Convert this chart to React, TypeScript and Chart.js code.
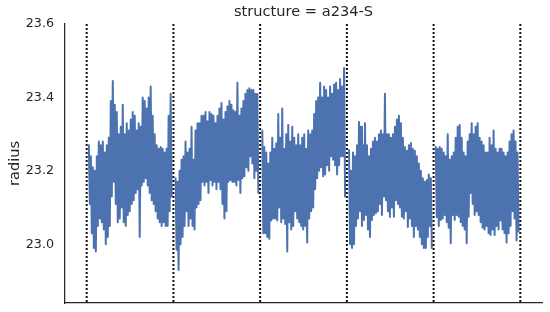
import React, { useEffect, useRef } from "react";
import { Chart, registerables } from "chart.js";

Chart.register(...registerables);

// ---- data ----
const chartTitle = "structure = a234-S";
const yLabel = "radius";
const yTicks = [23.0, 23.2, 23.4, 23.6];
const yMin = 22.84;
const yMax = 23.6;
const segmentBoundaries = [0, 100, 200, 300, 400, 500];
const framesPerSegment = 100;
const sampleOffset = 2.5;
const sampleStep = 2.3;

// upper / lower envelope of the noisy trace, one value per sample
const seg1Upper = [23.27, 23.24, 23.21, 23.2, 23.24, 23.28, 23.27, 23.28, 23.25, 23.27, 23.29, 23.39, 23.445, 23.38, 23.36, 23.3, 23.32, 23.38, 23.3, 23.33, 23.31, 23.34, 23.36, 23.35, 23.31, 23.33, 23.32, 23.4, 23.39, 23.37, 23.4, 23.43, 23.35, 23.3, 23.27, 23.26, 23.265, 23.26, 23.25, 23.26, 23.35, 23.41];
const seg1Lower = [23.11, 23.03, 22.99, 22.98, 23.05, 23.07, 23.06, 23.04, 23.0, 23.02, 23.05, 23.13, 23.17, 23.11, 23.06, 23.07, 23.1, 23.06, 23.05, 23.08, 23.09, 23.11, 23.12, 23.14, 23.15, 23.02, 23.16, 23.17, 23.18, 23.16, 23.14, 23.12, 23.11, 23.09, 23.07, 23.06, 23.05, 23.06, 23.05, 23.05, 23.09, 23.13];

const seg2Upper = [23.18, 23.17, 23.2, 23.23, 23.24, 23.28, 23.25, 23.26, 23.32, 23.23, 23.31, 23.33, 23.33, 23.35, 23.35, 23.36, 23.335, 23.36, 23.355, 23.35, 23.33, 23.35, 23.37, 23.385, 23.34, 23.36, 23.375, 23.39, 23.38, 23.365, 23.36, 23.44, 23.35, 23.37, 23.39, 23.41, 23.42, 23.425, 23.42, 23.42, 23.41, 23.41];
const seg2Lower = [22.985, 22.93, 23.0, 23.02, 23.05, 23.09, 23.05, 23.07, 23.05, 23.04, 23.1, 23.11, 23.12, 23.17, 23.16, 23.17, 23.14, 23.175, 23.16, 23.17, 23.15, 23.17, 23.15, 23.11, 23.07, 23.09, 23.17, 23.175, 23.17, 23.17, 23.16, 23.175, 23.14, 23.18, 23.185, 23.21, 23.2, 23.24, 23.22, 23.18, 23.2, 23.14];

const seg3Upper = [23.31, 23.265, 23.25, 23.22, 23.25, 23.29, 23.26, 23.275, 23.355, 23.29, 23.37, 23.26, 23.3, 23.325, 23.28, 23.32, 23.29, 23.27, 23.3, 23.27, 23.29, 23.3, 23.26, 23.31, 23.3, 23.31, 23.355, 23.39, 23.4, 23.44, 23.4, 23.43, 23.42, 23.4, 23.43, 23.41, 23.435, 23.44, 23.42, 23.45, 23.43, 23.48];
const seg3Lower = [23.03, 23.03, 23.02, 23.015, 23.065, 23.07, 23.07, 23.065, 23.1, 23.06, 23.07, 23.055, 22.98, 23.06, 23.04, 23.05, 23.09, 23.07, 23.06, 23.05, 23.04, 23.05, 23.005, 23.07, 23.09, 23.1, 23.15, 23.18, 23.2, 23.21, 23.185, 23.19, 23.215, 23.2, 23.24, 23.23, 23.215, 23.19, 23.215, 23.24, 23.24, 23.13];

const seg4Upper = [23.257, 23.2, 23.25, 23.24, 23.27, 23.333, 23.32, 23.27, 23.33, 23.27, 23.24, 23.26, 23.28, 23.29, 23.28, 23.3, 23.31, 23.3, 23.41, 23.3, 23.3, 23.29, 23.3, 23.32, 23.34, 23.35, 23.33, 23.29, 23.265, 23.255, 23.27, 23.276, 23.26, 23.255, 23.24, 23.22, 23.2, 23.18, 23.17, 23.175, 23.19, 23.18];
const seg4Lower = [23.0, 22.99, 23.0, 23.05, 23.07, 23.09, 23.05, 23.066, 23.08, 23.04, 23.02, 23.066, 23.08, 23.085, 23.09, 23.11, 23.08, 23.13, 23.12, 23.09, 23.074, 23.1, 23.075, 23.12, 23.11, 23.1, 23.075, 23.07, 23.09, 23.047, 23.07, 23.05, 23.02, 23.05, 23.04, 23.02, 23.0, 22.99, 22.99, 23.02, 23.05, 22.99];

const seg5Upper = [23.265, 23.26, 23.265, 23.26, 23.25, 23.24, 23.3, 23.23, 23.24, 23.25, 23.29, 23.32, 23.325, 23.29, 23.25, 23.24, 23.28, 23.3, 23.33, 23.3, 23.32, 23.33, 23.29, 23.28, 23.27, 23.25, 23.25, 23.29, 23.27, 23.31, 23.26, 23.25, 23.26, 23.26, 23.25, 23.24, 23.25, 23.28, 23.3, 23.31, 23.28, 23.25];
const seg5Lower = [23.074, 23.05, 23.066, 23.07, 23.08, 23.06, 23.045, 23.003, 23.08, 23.066, 23.08, 23.075, 23.06, 23.05, 23.04, 23.003, 23.075, 23.14, 23.11, 23.08, 23.09, 23.08, 23.06, 23.045, 23.04, 23.05, 23.03, 23.025, 23.04, 23.025, 23.05, 23.04, 23.065, 23.04, 23.03, 23.005, 23.03, 23.05, 23.09, 23.07, 23.01, 23.035];

const segments = [
  [seg1Upper, seg1Lower],
  [seg2Upper, seg2Lower],
  [seg3Upper, seg3Lower],
  [seg4Upper, seg4Lower],
  [seg5Upper, seg5Lower],
];

const LINE_COLOR = "#4C72B0";
const TEXT_COLOR = "#262626";
const FONT = "'DejaVu Sans', sans-serif";

function buildTrace(k: number, upper: number[], lower: number[]) {
  const pts: { x: number; y: number }[] = [];
  const base = k * framesPerSegment + sampleOffset;
  for (let i = 0; i < upper.length; i++) {
    pts.push({ x: base + i * sampleStep, y: upper[i] });
    pts.push({ x: base + i * sampleStep + sampleStep / 2, y: lower[i] });
  }
  return pts;
}

const segmentLinesPlugin = {
  id: "segmentLines",
  afterDatasetsDraw(chart: any) {
    const { ctx, chartArea, scales } = chart;
    ctx.save();
    ctx.strokeStyle = "#111111";
    ctx.lineWidth = 2;
    ctx.setLineDash([2, 2]);
    for (const b of segmentBoundaries) {
      const x = scales.x.getPixelForValue(b);
      ctx.beginPath();
      ctx.moveTo(x, chartArea.top);
      ctx.lineTo(x, chartArea.bottom);
      ctx.stroke();
    }
    ctx.restore();
  },
};

export default function App() {
  const ref = useRef<HTMLCanvasElement | null>(null);

  useEffect(() => {
    if (!ref.current) return;
    const datasets = segments.map(([u, l], k) => ({
      label: `segment ${k + 1}`,
      data: buildTrace(k, u, l),
      borderColor: LINE_COLOR,
      borderWidth: 2,
      borderJoinStyle: "round" as const,
      borderCapStyle: "round" as const,
      pointRadius: 0,
      fill: false,
      tension: 0,
    }));
    const chart = new Chart(ref.current, {
      type: "line",
      data: { datasets },
      plugins: [segmentLinesPlugin],
      options: {
        responsive: false,
        animation: false,
        events: [],
        layout: { padding: { left: 0, right: 8, top: 0, bottom: 9 } },
        plugins: {
          legend: { display: false },
          tooltip: { enabled: false },
          title: {
            display: true,
            text: chartTitle,
            fullSize: false,
            color: TEXT_COLOR,
            font: { family: FONT, size: 14.6, weight: "normal" },
            padding: { top: 3.5, bottom: 3 },
          },
        },
        scales: {
          x: {
            type: "linear",
            min: -25,
            max: 525,
            grid: { display: false, drawTicks: false },
            border: { display: true, color: TEXT_COLOR, width: 1.25 },
            ticks: { display: false },
          },
          y: {
            type: "linear",
            min: yMin,
            max: yMax,
            afterBuildTicks: (scale: any) => {
              scale.ticks = yTicks.map((v) => ({ value: v }));
            },
            afterFit: (scale: any) => {
              scale.width = 65;
            },
            grid: { display: false, drawTicks: true, tickLength: 11 },
            border: { display: true, color: TEXT_COLOR, width: 1.25 },
            ticks: {
              color: TEXT_COLOR,
              padding: 0,
              font: { family: FONT, size: 12.7 },
              callback: (v: any) => Number(v).toFixed(1),
            },
            title: {
              display: true,
              text: yLabel,
              color: TEXT_COLOR,
              font: { family: FONT, size: 14.6 },
              padding: { top: 6, bottom: 0 },
            },
          },
        },
      },
    });
    return () => chart.destroy();
  }, []);

  return (
    <div style={{ position: "fixed", left: 0, top: 0, width: 550, height: 312, background: "#fff" }}>
      <canvas ref={ref} width={550} height={312} style={{ width: 550, height: 312 }} />
    </div>
  );
}
